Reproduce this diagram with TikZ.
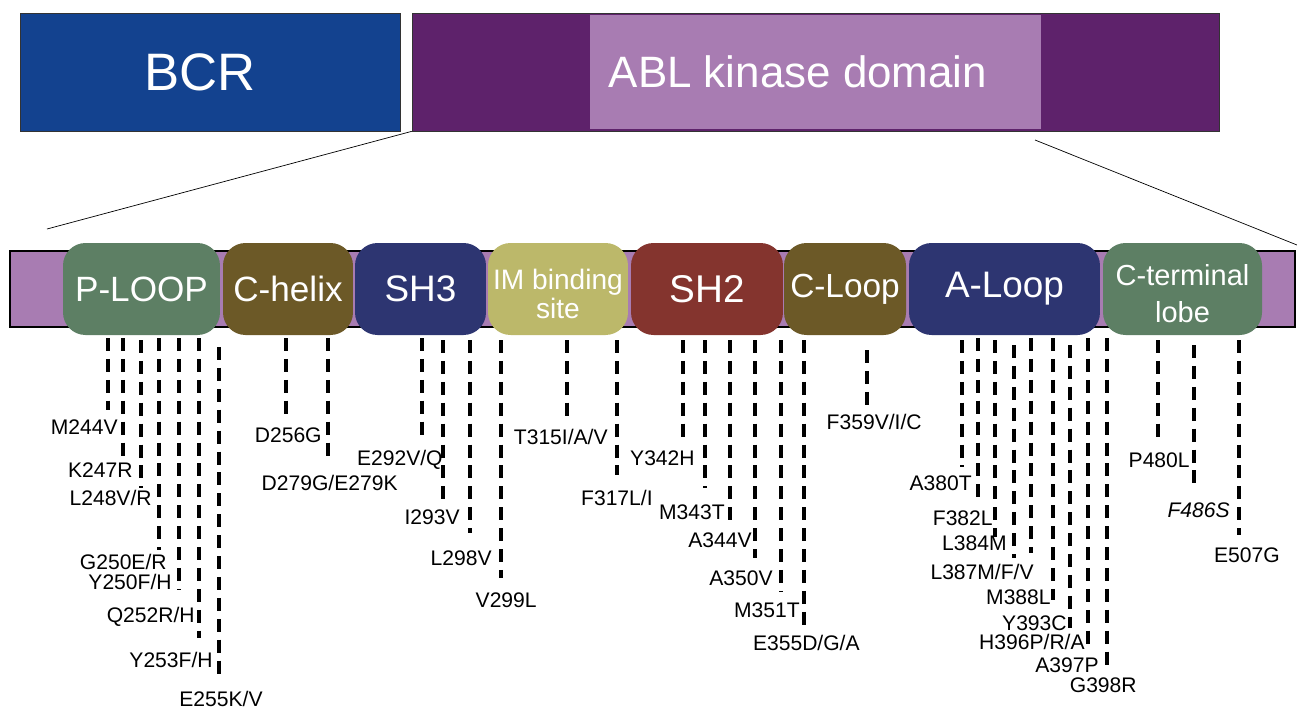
\documentclass[tikz,border=0pt]{standalone}
\usepackage{fontspec}
\setmainfont{Liberation Sans}
\usepackage{tikz}

\definecolor{bcrblue}{HTML}{13428F}
\definecolor{abldark}{HTML}{5E226B}
\definecolor{abllight}{HTML}{A87CB2}
\definecolor{ploopgreen}{HTML}{5D7F64}
\definecolor{helixolive}{HTML}{6C5927}
\definecolor{shnavy}{HTML}{2D3571}
\definecolor{imkhaki}{HTML}{BCB86A}
\definecolor{shred}{HTML}{84342E}

\tikzset{
  domainbox/.style={rounded corners=0.45cm, minimum height=1.84cm, inner sep=0pt, text=white, align=center, font=\fontsize{20}{22}\selectfont},
  mutline/.style={line width=2.3pt, dash pattern=on 7.4pt off 4.5pt},
  mutlabel/.style={anchor=east, inner sep=0pt, font=\fontsize{12}{14}\selectfont},
}

\begin{document}
\begin{tikzpicture}[x=0.02cm, y=-0.02cm]
\useasboundingbox (0,0) rectangle (1297,711);
% BCR-ABL
\node[draw=black!80, fill=bcrblue, minimum width=7.6cm, minimum height=2.36cm, inner sep=0pt] (bcr) at (210,72) {};
\node[text=white, font=\fontsize{30}{36}\selectfont] (bcrname) at (200,72) {BCR};
\node[draw=black!80, fill=abldark, minimum width=16.14cm, minimum height=2.36cm, inner sep=0pt] (abl) at (815.5,72) {};
\node[fill=abllight, minimum width=9.02cm, minimum height=2.3cm, inner sep=0pt] (kinase) at (815.5,72) {};
\node[text=white, font=\fontsize{25}{30}\selectfont] (ablname) at (798,72) {ABL kinase domain};

\coordinate (zoomleft) at (47,229);
\coordinate (zoomtop) at (1035,140);
\coordinate (zoomright) at (1297,245);
\draw[thin] (abl.south west) -- (zoomleft);
\draw[thin] (zoomtop) -- (zoomright);

% kinase domain bar
\node[draw=black, line width=0.8pt, fill=abllight, minimum width=25.7cm, minimum height=1.52cm, inner sep=0pt] (bar) at (652.5,289) {};
\node[domainbox, fill=ploopgreen, minimum width=3.14cm] (ploop) at (141.5,289) {P-LOOP};
\node[domainbox, fill=helixolive, minimum width=2.6cm] (chelix) at (288,289) {C-helix};
\node[domainbox, fill=shnavy, minimum width=2.62cm, font=\fontsize{21}{23}\selectfont] (sh3) at (420.5,289) {SH3};
\node[domainbox, fill=imkhaki, minimum width=2.8cm] (imsite) at (558,289) {};
\node[text=white, align=center, inner sep=0pt, font=\fontsize{16}{17}\selectfont] (imname) at (558,294) {IM binding\\site};
\node[domainbox, fill=shred, minimum width=3.04cm, font=\fontsize{22}{24}\selectfont] (sh2) at (707,289) {SH2};
\node[domainbox, fill=helixolive, minimum width=2.44cm, font=\fontsize{19}{21}\selectfont] (cloop) at (845,289) {C-Loop};
\node[domainbox, fill=shnavy, minimum width=3.82cm, font=\fontsize{21}{23}\selectfont] (aloop) at (1004.5,289) {A-Loop};
\node[domainbox, fill=ploopgreen, minimum width=3.18cm] (cterm) at (1182.5,289) {};
\node[text=white, align=center, inner sep=0pt, font=\fontsize{16.5}{21}\selectfont] (ctermname) at (1182.5,294) {C-terminal\\lobe};

% mutation sites
\foreach \x/\s/\e in {108/338/410, 123/338/460, 141/340/488, 159/338/550, 179/338/590, 199/338/638, 219/347/677,
    286/338/415, 328/338/460, 422/338/442, 443/340/500, 470/340/533, 501/340/578, 567/340/417, 617/340/475,
    683/340/442, 705/340/488, 730/340/523, 755/340/558, 781/340/592, 804/340/625, 867/350/405,
    962/340/467, 978/338/505, 995/340/537, 1014/345/558, 1031/338/553, 1053/338/600, 1070/345/628, 1088/338/647, 1107/338/667,
    1158/340/440, 1194/345/490, 1239/340/535}
  \draw[mutline] (\x,\s) -- (\x,\e);

\foreach \rx/\cy/\t in {118/427/M244V, 133/470/K247R, 152/498/{L248V/R}, 167/562/{G250E/R}, 172/582/{Y250F/H},
    195/617/{Q252R/H}, 213/660/{Y253F/H}, 263/699/{E255K/V}, 322/435/D256G, 398/483/{D279G/E279K},
    443/460/{E292V/Q}, 460/517/I293V, 492/558/L298V, 537/600/V299L, 608/437/{T315I/A/V}, 653/498/{F317L/I},
    695/458/Y342H, 725/512/M343T, 752/540/A344V, 773/578/A350V, 800/610/M351T, 860/643/{E355D/G/A},
    922/422/{F359V/I/C}, 972/483/A380T, 993/518/F382L, 1007/543/L384M, 1034/572/{L387M/F/V}, 1051/597/M388L,
    1067/623/Y393C, 1085/642/{H396P/R/A}, 1099/665/A397P, 1137/685/G398R,
    1190/460/P480L, 1230/510/{\itshape F486S}, 1280/555/E507G}
  \node[mutlabel] (m\rx) at (\rx,\cy) {\t};
\end{tikzpicture}
\end{document}
